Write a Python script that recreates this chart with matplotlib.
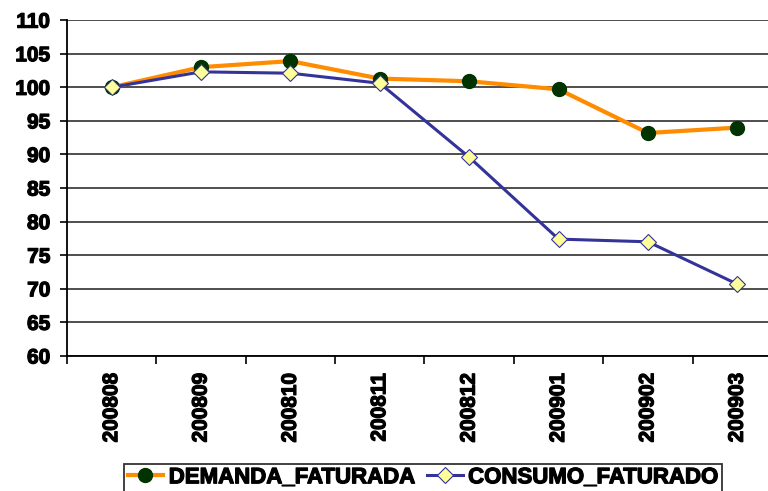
import matplotlib
matplotlib.use("Agg")
import matplotlib.pyplot as plt
import matplotlib.patheffects as pe
import numpy as np

plt.rcParams["font.family"] = ["Liberation Sans", "DejaVu Sans"]
plt.rcParams["font.weight"] = "bold"

periodos = ["200808", "200809", "200810", "200811", "200812", "200901", "200902", "200903"]
demanda_faturada = [100.0, 103.0, 103.9, 101.3, 100.9, 99.7, 93.2, 94.0]
consumo_faturado = [100.0, 102.3, 102.1, 100.6, 89.6, 77.4, 77.0, 70.7]

fig = plt.figure(figsize=(7.68, 4.91), dpi=100)
ax = fig.add_axes([0.0872, 0.275, 0.931, 0.684])

x = np.arange(len(periodos))
ax.plot(x, demanda_faturada, color="#ff8c00", lw=3, marker="o", ms=10,
        mfc="#003300", mec="#003300", label="DEMANDA_FATURADA", zorder=3)
ax.plot(x, consumo_faturado, color="#333399", lw=2.2, marker="D", ms=8.5,
        mfc="#ffff99", mec="#333399", mew=0.8, label="CONSUMO_FATURADO", zorder=4)

heavy = [pe.withStroke(linewidth=0.9, foreground="black")]

ax.set_ylim(60, 110)
ax.set_yticks(np.arange(60, 111, 5))
ax.set_xlim(-0.5, len(periodos) - 0.5)
ax.set_xticks(x)
ax.set_xticklabels(periodos, rotation=90, fontsize=15, fontweight="bold")
ax.set_xticks(np.arange(-0.5, len(periodos), 1), minor=True)
ax.tick_params(axis="x", which="major", length=0, pad=12)
ax.tick_params(axis="x", which="minor", length=6, width=1.2, color="black")
ax.tick_params(axis="y", length=5, width=1.2, pad=7, labelsize=15)
for lbl in ax.get_yticklabels() + ax.get_xticklabels():
    lbl.set_fontweight("bold")
    lbl.set_path_effects(heavy)

ax.grid(axis="y", color="#404040", lw=1.3)
ax.set_axisbelow(True)
for s in ["top", "right"]:
    ax.spines[s].set_visible(False)
ax.spines["left"].set_linewidth(1.3)
ax.spines["bottom"].set_linewidth(1.3)

leg = fig.legend(loc="center", bbox_to_anchor=(0.551, 0.027), ncol=2,
                 frameon=True, fancybox=False, edgecolor="black",
                 prop={"weight": "bold", "size": 16}, handlelength=1.6,
                 handletextpad=0.25, columnspacing=0.5, borderpad=0.15,
                 borderaxespad=0)
leg.get_frame().set_linewidth(1.3)
for t in leg.get_texts():
    t.set_path_effects(heavy)

fig.savefig("out.png", dpi=100)
